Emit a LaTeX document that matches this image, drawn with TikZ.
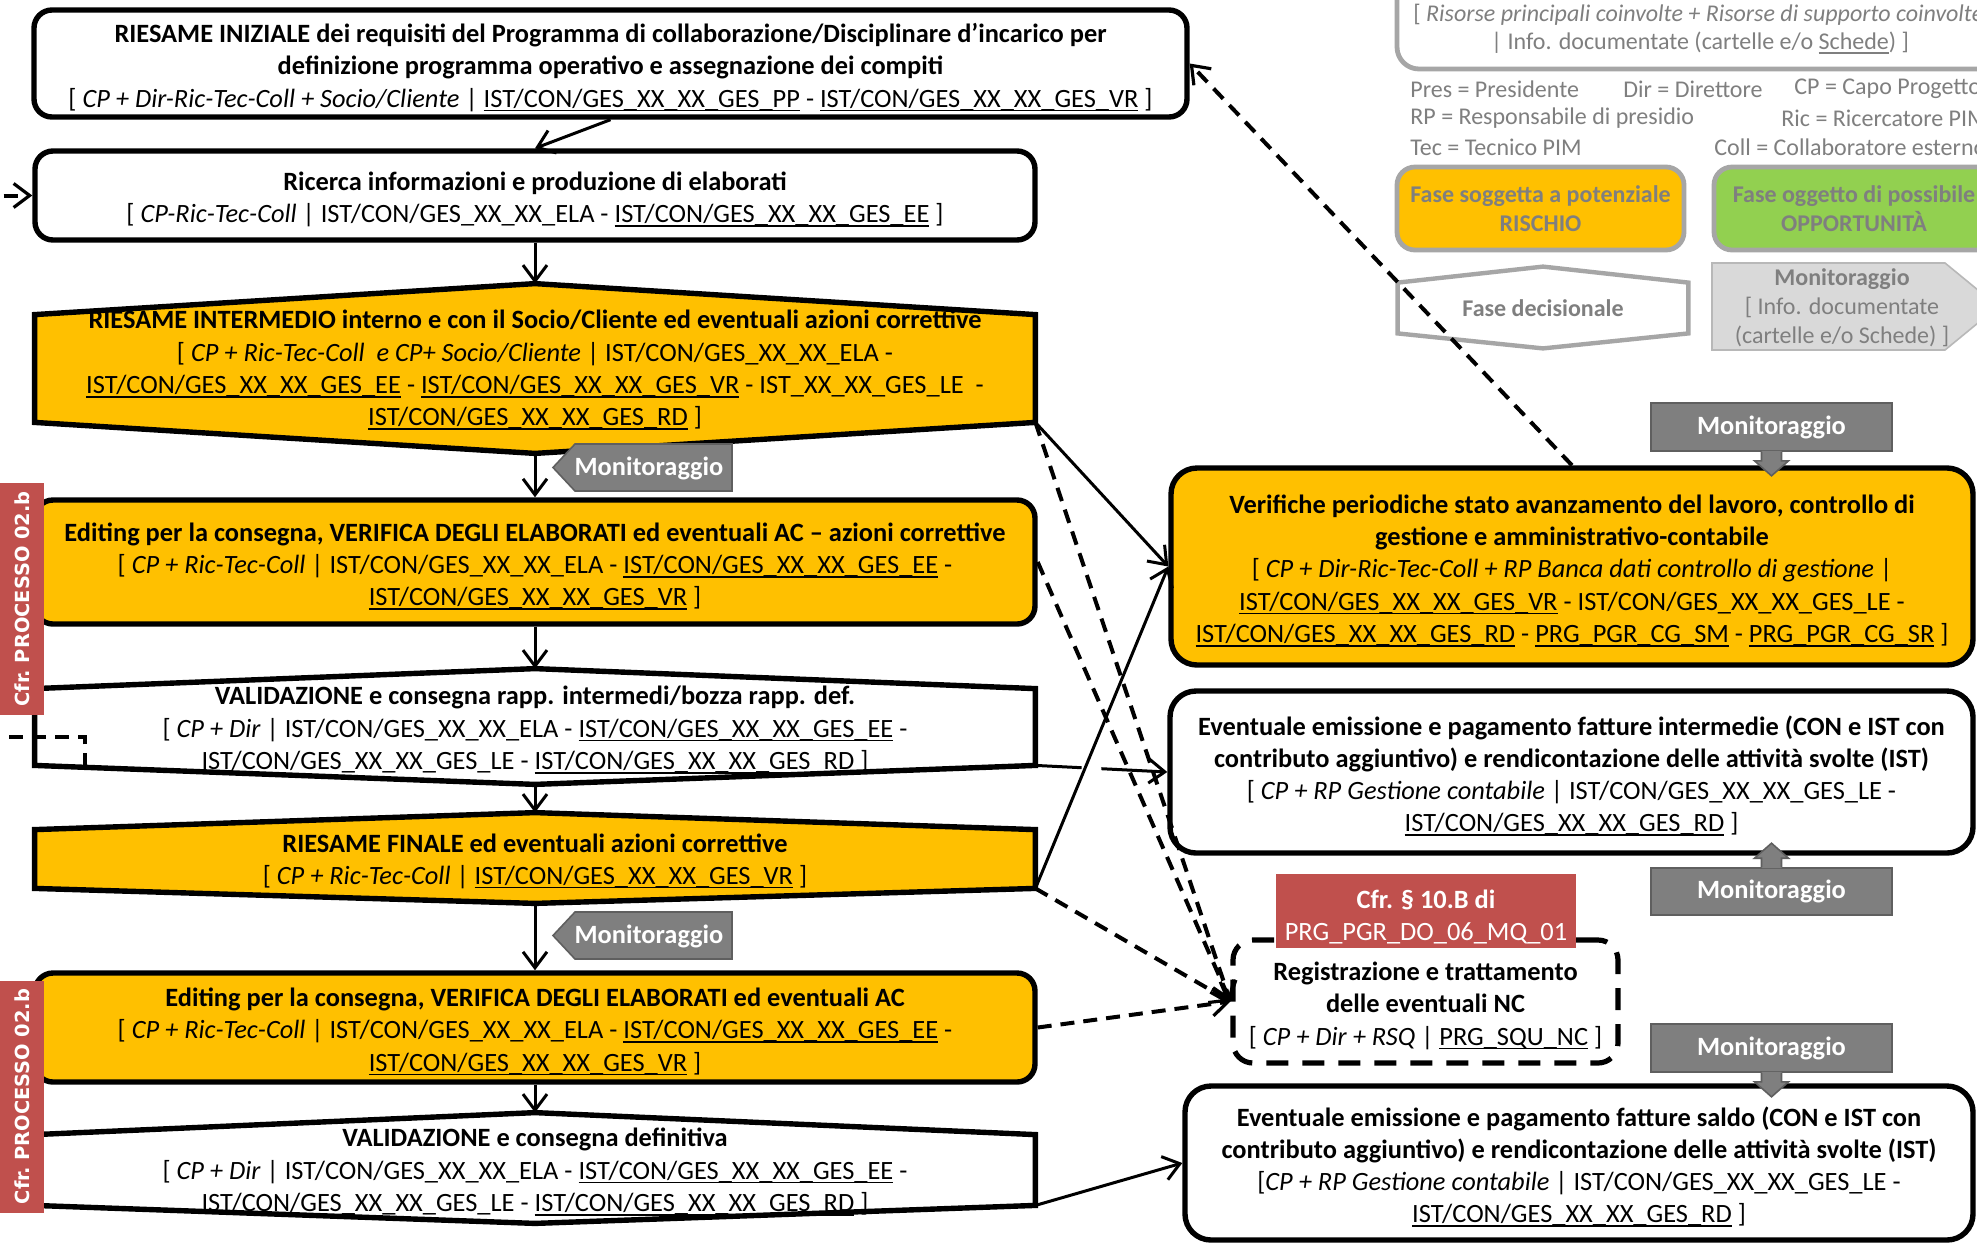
\documentclass[tikz,border=0pt]{standalone}
\usepackage{fontspec}
\setmainfont{Carlito}
\newfontfamily\tagfont{DejaVu Sans}
\usetikzlibrary{arrows.meta,calc}

\definecolor{riskyellow}{RGB}{255,192,0}
\definecolor{refred}{RGB}{192,80,77}
\definecolor{tagcolor}{RGB}{127,127,127}
\definecolor{tagborder}{RGB}{95,95,95}
\definecolor{leggrey}{RGB}{166,166,166}
\definecolor{legtext}{RGB}{127,127,127}
\definecolor{oppgreen}{RGB}{146,208,80}
\definecolor{monlight}{RGB}{217,217,217}

% underline sitting at the level of the underscores
\newsavebox\ulnbox
\newcommand\uln[1]{\sbox\ulnbox{#1}\rlap{\rule[-0.16em]{\wd\ulnbox}{0.065em}}\usebox\ulnbox}
\newcommand\mainsize{\fontsize{13.2}{16.1}\selectfont}
\newcommand\legsize{\fontsize{12}{14.6}\selectfont}
% taller first line, so that the text block sits a little lower in its box
\newcommand\tstrut{\rule{0pt}{13.5pt}}

% hexagonal outline around an (empty) node: top apex rise, bottom apex drop, fill
\newcommand\hexoutline[4]{%
  \filldraw[hexline,fill=#4] (#1.north west) -- ($(#1.north)+(0,-#2)$) -- (#1.north east)
    -- (#1.south east) -- ($(#1.south)+(0,#3)$) -- (#1.south west) -- cycle;}

% small block arrow hanging from a grey tag (1 = down, -1 = up)
\newcommand\tagpointer[2]{%
  \begin{scope}[shift={(#1)},yscale=#2]
    \fill[tagcolor] (-10,-1) -- (-10,9) -- (-17,9) -- (0,24) -- (17,9) -- (10,9) -- (10,-1) -- cycle;
    \draw[tagedge] (-10,0) -- (-10,9) -- (-17,9) -- (0,24) -- (17,9) -- (10,9) -- (10,0);
  \end{scope}}

\begin{document}
\begin{tikzpicture}[x=0.5pt,y=-0.5pt,
  frame/.style={draw=black,line width=2.7pt,inner sep=0pt},
  roundbox/.style={frame,rounded corners=9pt,align=center,font=\mainsize},
  hexnode/.style={inner sep=0pt},
  hexline/.style={draw=black,line width=2.7pt,line join=miter},
  txt/.style={align=center,inner sep=0pt,font=\mainsize},
  legtxt/.style={inner sep=0pt,font=\legsize,text=legtext},
  legbox/.style={draw=leggrey,line width=2.4pt,rounded corners=9pt,inner sep=0pt,
    align=center,font=\legsize\bfseries,text=legtext},
  flow/.style={line width=1.5pt,-{Straight Barb[length=8pt,width=12pt,line width=1.5pt]}},
  dflow/.style={line width=2pt,dash pattern=on 7pt off 4.5pt,
    -{Straight Barb[length=8pt,width=12pt,line width=1.6pt]}},
  tagedge/.style={draw=tagborder,line width=0.8pt,line join=miter},
  montag/.style={fill=tagcolor,tagedge,inner sep=0pt,text=white,font=\mainsize\bfseries},
  sidelabel/.style={fill=refred,text=white,rotate=90,inner sep=0pt,
    minimum width=116pt,minimum height=22pt,font=\tagfont\bfseries\fontsize{9.7}{11}\selectfont}
]
\useasboundingbox (0,0) rectangle (1977,1244);
\fill[white] (0,0) rectangle (1977,1244);
\clip (0,0) rectangle (1977,1244);

% ---------------- legend ----------------
\node[draw=leggrey,line width=2.4pt,rounded corners=11pt,fill=white,inner sep=0pt,
  minimum width=306.5pt,minimum height=54.5pt] (lgtop) at (1703.5,14.5) {};
\node[legtxt,anchor=west] (lgl1) at (1413,15) {[ \textit{Risorse principali coinvolte + Risorse di supporto coinvolte}};
\node[legtxt] (lgl2) at (1700,43) {| Info. documentate (cartelle e/o \uln{Schede}) ]};

\node[legtxt,anchor=west] (ab1) at (1410,89) {Pres = Presidente};
\node[legtxt,anchor=west] (ab2) at (1623,89) {Dir = Direttore};
\node[legtxt,anchor=west] (ab3) at (1794,89) {CP = Capo Progetto};
\node[legtxt,anchor=west] (ab4) at (1410,118) {RP = Responsabile di presidio};
\node[legtxt,anchor=west] (ab5) at (1781,118) {Ric = Ricercatore PIM};
\node[legtxt,anchor=west] (ab6) at (1410,147) {Tec = Tecnico PIM};
\node[legtxt,anchor=west] (ab7) at (1714,147) {Coll = Collaboratore esterno};

\node[legbox,fill=riskyellow,minimum width=143.5pt,minimum height=41.5pt] (lgrisk)
  at (1540.5,208.5) {Fase soggetta a potenziale\\RISCHIO};
\node[legbox,fill=oppgreen,minimum width=140pt,minimum height=41.5pt] (lgopp)
  at (1854,208.5) {Fase oggetto di possibile\\OPPORTUNITÀ};

\node[inner sep=0pt,minimum width=145pt,minimum height=25pt,font=\legsize\bfseries,text=legtext]
  (lghex) at (1543,308) {Fase decisionale};
\draw[leggrey,line width=2.2pt,line join=miter] (lghex.north west) -- ($(lghex.north)+(0,-16)$)
  -- (lghex.north east) -- (lghex.south east) -- ($(lghex.south)+(0,15)$) -- (lghex.south west) -- cycle;

\filldraw[fill=monlight,draw=leggrey!80,line width=0.8pt,line join=miter]
  (1712,263) -- (1945,263) -- (1998,306.5) -- (1945,350) -- (1712,350) -- cycle;
\node[legtxt,align=center] (lgmon) at (1842,308)
  {\textbf{Monitoraggio}\\{}[ Info. documentate\\(cartelle e/o Schede) ]};

% ---------------- left column ----------------
\node[roundbox,fill=white,minimum width=576.5pt,minimum height=53.5pt] (b1) at (610.5,63.5)
  {\tstrut\textbf{RIESAME INIZIALE dei requisiti del Programma di collaborazione/Disciplinare d’incarico per}\\
   \textbf{definizione programma operativo e assegnazione dei compiti}\\
   {}[ \textit{CP + Dir-Ric-Tec-Coll + Socio/Cliente} | \uln{IST/CON/GES\_XX\_XX\_GES\_PP} - \uln{IST/CON/GES\_XX\_XX\_GES\_VR} ]};

\node[roundbox,fill=white,minimum width=500pt,minimum height=44.5pt] (b2) at (535,195.5)
  {\tstrut\textbf{Ricerca informazioni e produzione di elaborati}\\
   {}[ \textit{CP-Ric-Tec-Coll} | IST/CON/GES\_XX\_XX\_ELA - \uln{IST/CON/GES\_XX\_XX\_GES\_EE} ]};

\node[hexnode,minimum width=500pt,minimum height=53.5pt] (h3) at (535,368.5) {};
\hexoutline{h3}{31}{31}{riskyellow}
\node[txt] (h3t) at (535,370)
  {\textbf{RIESAME INTERMEDIO interno e con il Socio/Cliente ed eventuali azioni correttive}\\
   {}[ \textit{CP + Ric-Tec-Coll\ \ e CP+ Socio/Cliente} | IST/CON/GES\_XX\_XX\_ELA -\\
   \uln{IST/CON/GES\_XX\_XX\_GES\_EE} - \uln{IST/CON/GES\_XX\_XX\_GES\_VR} - IST\_XX\_XX\_GES\_LE\ \ -\\
   \uln{IST/CON/GES\_XX\_XX\_GES\_RD} ]};

\node[roundbox,fill=riskyellow,minimum width=500pt,minimum height=62pt] (ed1) at (535,562)
  {\tstrut\textbf{Editing per la consegna, VERIFICA DEGLI ELABORATI ed eventuali AC – azioni correttive}\\
   {}[ \textit{CP + Ric-Tec-Coll} | IST/CON/GES\_XX\_XX\_ELA - \uln{IST/CON/GES\_XX\_XX\_GES\_EE} -\\
   \uln{IST/CON/GES\_XX\_XX\_GES\_VR} ]};

\node[hexnode,minimum width=500pt,minimum height=38pt] (h5) at (535,727) {};
\hexoutline{h5}{20}{19}{white}
\node[txt] (h5t) at (535,730)
  {\textbf{VALIDAZIONE e consegna rapp. intermedi/bozza rapp. def.}\\
   {}[ \textit{CP + Dir} | IST/CON/GES\_XX\_XX\_ELA - \uln{IST/CON/GES\_XX\_XX\_GES\_EE} -\\
   IST/CON/GES\_XX\_XX\_GES\_LE - \uln{IST/CON/GES\_XX\_XX\_GES\_RD} ]};

\node[hexnode,minimum width=500pt,minimum height=29pt] (h6) at (535,859) {};
\hexoutline{h6}{17}{15}{riskyellow}
\node[txt] (h6t) at (535,861)
  {\textbf{RIESAME FINALE ed eventuali azioni correttive}\\
   {}[ \textit{CP + Ric-Tec-Coll} | \uln{IST/CON/GES\_XX\_XX\_GES\_VR} ]};

\node[roundbox,fill=riskyellow,minimum width=500pt,minimum height=54.5pt] (ed2) at (535,1027.5)
  {\tstrut\textbf{Editing per la consegna, VERIFICA DEGLI ELABORATI ed eventuali AC}\\
   {}[ \textit{CP + Ric-Tec-Coll} | IST/CON/GES\_XX\_XX\_ELA - \uln{IST/CON/GES\_XX\_XX\_GES\_EE} -\\
   \uln{IST/CON/GES\_XX\_XX\_GES\_VR} ]};

\node[hexnode,minimum width=500pt,minimum height=35pt] (h8) at (535,1170) {};
\hexoutline{h8}{22}{18}{white}
\node[txt] (h8t) at (535,1172)
  {\textbf{VALIDAZIONE e consegna definitiva}\\
   {}[ \textit{CP + Dir} | IST/CON/GES\_XX\_XX\_ELA - \uln{IST/CON/GES\_XX\_XX\_GES\_EE} -\\
   IST/CON/GES\_XX\_XX\_GES\_LE - \uln{IST/CON/GES\_XX\_XX\_GES\_RD} ]};

% apexes of the decision hexagons
\coordinate (h3top) at ($(h3.north)+(0,-31)$);
\coordinate (h3bot) at ($(h3.south)+(0,31)$);
\coordinate (h5top) at ($(h5.north)+(0,-20)$);
\coordinate (h5bot) at ($(h5.south)+(0,19)$);
\coordinate (h6top) at ($(h6.north)+(0,-17)$);
\coordinate (h6bot) at ($(h6.south)+(0,15)$);
\coordinate (h8top) at ($(h8.north)+(0,-22)$);

% ---------------- right column ----------------
\node[roundbox,fill=riskyellow,rounded corners=13pt,minimum width=401pt,minimum height=98.5pt] (vf) at (1572,566.5)
  {\tstrut\textbf{Verifiche periodiche stato avanzamento del lavoro, controllo di}\\
   \textbf{gestione e amministrativo-contabile}\\
   {}[ \textit{CP + Dir-Ric-Tec-Coll + RP Banca dati controllo di gestione} |\\
   \uln{IST/CON/GES\_XX\_XX\_GES\_VR} - IST/CON/GES\_XX\_XX\_GES\_LE -\\
   \uln{IST/CON/GES\_XX\_XX\_GES\_RD} - \uln{PRG\_PGR\_CG\_SM} - \uln{PRG\_PGR\_CG\_SR} ]};

\node[roundbox,fill=white,rounded corners=13pt,minimum width=401.5pt,minimum height=81pt] (ei) at (1571.5,772)
  {\tstrut\textbf{Eventuale emissione e pagamento fatture intermedie (CON e IST con}\\
   \textbf{contributo aggiuntivo) e rendicontazione delle attività svolte (IST)}\\
   {}[ \textit{CP + RP Gestione contabile} | IST/CON/GES\_XX\_XX\_GES\_LE -\\
   \uln{IST/CON/GES\_XX\_XX\_GES\_RD} ]};

\node[draw=black,line width=2.6pt,dash pattern=on 11pt off 7pt,rounded corners=10pt,fill=white,
  txt,minimum width=192.5pt,minimum height=61.5pt] (nc) at (1425.5,1001.5)
  {\tstrut\textbf{Registrazione e trattamento}\\
   \textbf{delle eventuali NC}\\
   {}[ \textit{CP + Dir + RSQ} | \uln{PRG\_SQU\_NC} ]};

\node[roundbox,fill=white,rounded corners=13pt,minimum width=394pt,minimum height=77pt] (es) at (1579,1163)
  {\tstrut\textbf{Eventuale emissione e pagamento fatture saldo (CON e IST con}\\
   \textbf{contributo aggiuntivo) e rendicontazione delle attività svolte (IST)}\\
   {}[\textit{CP + RP Gestione contabile} | IST/CON/GES\_XX\_XX\_GES\_LE -\\
   \uln{IST/CON/GES\_XX\_XX\_GES\_RD} ]};

% ---------------- connectors ----------------
\draw[flow] (b1.south) -- (b2.north);
\draw[flow] (b2.south) -- (h3top);
\draw[flow] (h3bot) -- (ed1.north);
\draw[flow] (ed1.south) -- (h5top);
\draw[flow] (h5bot) -- (h6top);
\draw[flow] (h6bot) -- (ed2.north);
\draw[flow] (ed2.south) -- (h8top);

\draw[flow] (h5.south east) -- (ei.west);
% line jump where the return line crosses
\draw[white,line width=3pt] ($(h5.south east)!0.35!(ei.west)$) -- ($(h5.south east)!0.5!(ei.west)$);
\draw[flow] (h3.south east) -- (vf.west);
\draw[flow] (h6.south east) -- (vf.west);
\draw[flow] (h8.south east) -- (es.west);

\draw[dflow] (h3.south east) -- (nc.west);
\draw[dflow] (ed1.east) -- (nc.west);
\draw[dflow] (h6.south east) -- (nc.west);
\draw[dflow] (ed2.east) -- (nc.west);
\draw[dflow] (vf.north) -- (b1.east);

% feedback loop from the first validation back to the research phase
\coordinate (h5loop) at ($(h5.south west)!0.1!(h5bot)$);
\coordinate (loopcorner) at (-15,737);
\draw[dflow] (h5loop) |- (loopcorner) |- (b2.west);

% ---------------- reference box ----------------
\node[fill=refred,text=white,inner sep=0pt,align=center,font=\mainsize,
  minimum width=150pt,minimum height=37pt] (cfr) at (1426,911)
  {\rule{0pt}{15pt}\textbf{Cfr. § 10.B di}\\PRG\_PGR\_DO\_06\_MQ\_01};

% ---------------- monitoring tags ----------------
\fill[tagcolor] (553,467.5) -- (575,444) -- (732,444) -- (732,491) -- (575,491) -- cycle;
\draw[tagedge] (553,467.5) -- (575,444) -- (732,444) -- (732,491) -- (575,491) -- cycle;
\node[inner sep=0pt,text=white,font=\mainsize\bfseries] (mon1) at (649,468.5) {Monitoraggio};

\fill[tagcolor] (553,935.5) -- (575,912) -- (732,912) -- (732,959) -- (575,959) -- cycle;
\draw[tagedge] (553,935.5) -- (575,912) -- (732,912) -- (732,959) -- (575,959) -- cycle;
\node[inner sep=0pt,text=white,font=\mainsize\bfseries] (mon2) at (649,936.5) {Monitoraggio};

\node[montag,minimum width=120.5pt,minimum height=24pt] (mt1) at (1771.5,427) {Monitoraggio};
\tagpointer{mt1.south}{1}
\node[montag,minimum width=120.5pt,minimum height=23.5pt] (mt2) at (1771.5,891.5) {Monitoraggio};
\tagpointer{mt2.north}{-1}
\node[montag,minimum width=120.5pt,minimum height=24pt] (mt3) at (1771.5,1048) {Monitoraggio};
\tagpointer{mt3.south}{1}

% ---------------- process references ----------------
\node[sidelabel] (rl1) at (22,599) {Cfr.\ PROCESSO 02.b};
\node[sidelabel] (rl2) at (22,1096.5) {Cfr.\ PROCESSO 02.b};
\end{tikzpicture}
\end{document}
